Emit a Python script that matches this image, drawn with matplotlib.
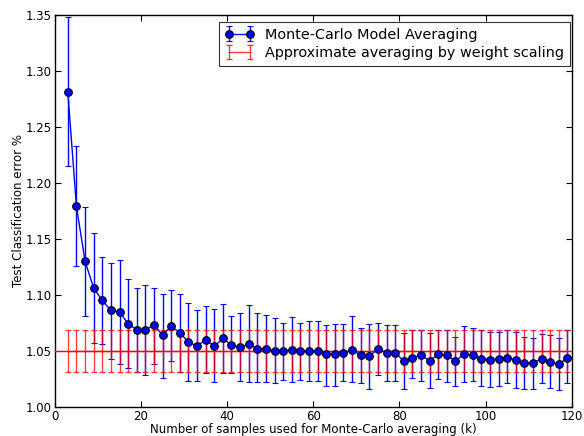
import numpy as np
import matplotlib
matplotlib.use("Agg")
import matplotlib.pyplot as plt

# Number of samples k
k = list(range(3, 121, 2))

mc_mean = [1.281, 1.179, 1.130, 1.106, 1.095, 1.086, 1.085, 1.074, 1.069, 1.069,
           1.073, 1.064, 1.072, 1.066, 1.058, 1.054, 1.060, 1.054, 1.061, 1.055,
           1.053, 1.056, 1.052, 1.052, 1.050, 1.050, 1.051, 1.050, 1.050, 1.050,
           1.047, 1.047, 1.048, 1.051, 1.046, 1.045, 1.052, 1.048, 1.048, 1.041,
           1.044, 1.046, 1.041, 1.047, 1.046, 1.041, 1.047, 1.046, 1.043, 1.042,
           1.043, 1.044, 1.042, 1.039, 1.039, 1.043, 1.040, 1.038, 1.044]
mc_low = [1.215, 1.126, 1.081, 1.057, 1.056, 1.043, 1.038, 1.035, 1.031, 1.028,
          1.038, 1.026, 1.041, 1.031, 1.023, 1.023, 1.030, 1.022, 1.030, 1.030,
          1.023, 1.022, 1.022, 1.022, 1.021, 1.024, 1.022, 1.024, 1.023, 1.023,
          1.019, 1.019, 1.023, 1.022, 1.021, 1.016, 1.028, 1.023, 1.023, 1.016,
          1.026, 1.023, 1.017, 1.025, 1.022, 1.019, 1.022, 1.023, 1.019, 1.018,
          1.019, 1.021, 1.017, 1.016, 1.016, 1.021, 1.017, 1.015, 1.021]
mc_high = [1.348, 1.233, 1.178, 1.155, 1.134, 1.128, 1.131, 1.114, 1.106, 1.109,
           1.106, 1.101, 1.104, 1.101, 1.093, 1.086, 1.090, 1.087, 1.092, 1.081,
           1.084, 1.091, 1.084, 1.082, 1.079, 1.075, 1.080, 1.075, 1.077, 1.077,
           1.073, 1.074, 1.074, 1.081, 1.070, 1.074, 1.075, 1.073, 1.073, 1.066,
           1.069, 1.069, 1.066, 1.069, 1.069, 1.062, 1.072, 1.070, 1.069, 1.067,
           1.067, 1.069, 1.067, 1.062, 1.061, 1.065, 1.064, 1.061, 1.069]

ws_mean = 1.050
ws_err = 0.0185

x_ticks = [0, 20, 40, 60, 80, 100, 120]
y_ticks = [1.00, 1.05, 1.10, 1.15, 1.20, 1.25, 1.30, 1.35]

plt.rcParams['font.family'] = ['DejaVu Sans']
plt.rcParams['font.size'] = 8.5

fig = plt.figure(figsize=(5.84, 4.36), dpi=100)
ax = fig.add_axes([0.094, 0.067, 0.885, 0.899])

k_arr = np.array(k)
mean = np.array(mc_mean)
yerr = [mean - np.array(mc_low), np.array(mc_high) - mean]

mc = ax.errorbar(k_arr, mean, yerr=yerr, color='blue', ecolor='blue', lw=1,
                 elinewidth=1, capsize=2.2, marker='o', ms=5.5, mfc='blue', mec='black',
                 mew=0.8, label='Monte-Carlo Model Averaging')
mc[0].set_zorder(5)
for c in mc[1]:
    c.set_zorder(2)
for b in mc[2]:
    b.set_zorder(2)

ws = np.full(len(k), ws_mean)
ax.errorbar(k_arr, ws, yerr=ws_err, color='red', lw=1, elinewidth=1, capsize=2.2,
            alpha=0.75, label='Approximate averaging by weight scaling', zorder=3)
ax.axhline(ws_mean, color='red', lw=1, zorder=3)

ax.set_xlim(0, 120)
ax.set_ylim(1.00, 1.35)
ax.set_xticks(x_ticks)
ax.set_yticks(y_ticks)
ax.set_yticklabels([f"{v:.2f}" for v in y_ticks])
ax.tick_params(direction='in', top=True, right=True, length=4, width=0.8, pad=2.5)
for s in ax.spines.values():
    s.set_linewidth(1)

ax.set_xlabel('Number of samples used for Monte-Carlo averaging (k)', labelpad=0)
ax.set_ylabel('Test Classification error %', labelpad=0)

leg = ax.legend(loc='upper right', bbox_to_anchor=(0.997, 0.982), numpoints=2,
                fontsize=10.4, fancybox=False, borderaxespad=0, handlelength=2.0,
                borderpad=0.4, labelspacing=0.3, handletextpad=0.8)
leg.get_frame().set_edgecolor('black')
leg.get_frame().set_linewidth(0.8)

fig.savefig('out.png', dpi=100)
